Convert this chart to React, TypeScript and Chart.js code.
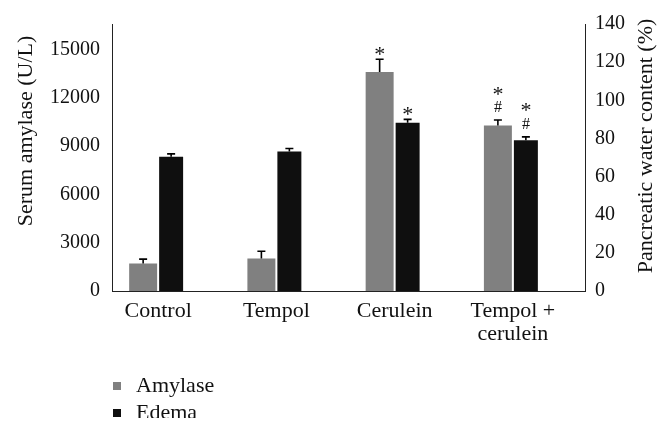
import { useEffect, useRef } from 'react';
import { Chart, registerables } from 'chart.js';

Chart.register(...registerables);

const categories: string[][] = [['Control'], ['Tempol'], ['Cerulein'], ['Tempol +', 'cerulein']];
const amylase = [1710, 2020, 13610, 10290];
const amylaseErr = [270, 450, 800, 340];
const amylaseMarks: string[][] = [[], [], ['*'], ['#', '*']];
const edema = [70.4, 73.1, 88.2, 79.1];
const edemaErr = [1.5, 1.6, 1.8, 1.7];
const edemaMarks: string[][] = [[], [], ['*'], ['#', '*']];
const thirdSeries = [0, 0, 0, 0];
const leftTicks = [0, 3000, 6000, 9000, 12000, 15000];
const leftMax = 16600;
const rightTicks = [0, 20, 40, 60, 80, 100, 120, 140];
const rightMax = 140;
const leftTitle = 'Serum amylase (U/L)';
const rightTitle = 'Pancreatic water content (%)';
const seriesNames = ['Amylase', 'Edema'];

const SERIF = "'Liberation Serif', 'Times New Roman', serif";
const GRAY = '#808080';
const BLACK = '#0f0f0f';

const errorPlugin = {
  id: 'errorBarsAndMarks',
  afterDatasetsDraw(chart: any) {
    const ctx = chart.ctx;
    const errs = [amylaseErr, edemaErr];
    const vals = [amylase, edema];
    const marks = [amylaseMarks, edemaMarks];
    for (let d = 0; d < 2; d++) {
      const meta = chart.getDatasetMeta(d);
      const scale = chart.scales[chart.data.datasets[d].yAxisID];
      meta.data.forEach((bar: any, j: number) => {
        const x = bar.x;
        const yTop = bar.y;
        const yErr = scale.getPixelForValue(vals[d][j] + errs[d][j]);
        ctx.save();
        ctx.strokeStyle = '#000';
        ctx.lineWidth = 1.6;
        ctx.beginPath();
        ctx.moveTo(x, yTop);
        ctx.lineTo(x, yErr);
        ctx.moveTo(x - 4, yErr);
        ctx.lineTo(x + 4, yErr);
        ctx.stroke();
        const m = marks[d][j];
        ctx.fillStyle = '#111';
        ctx.textAlign = 'center';
        ctx.textBaseline = 'alphabetic';
        let centers: number[] = [];
        if (m.length === 1) centers = [yErr - 8.5];
        else if (m.length === 2) centers = [yErr - 13.5, yErr - 29.5];
        m.forEach((s: string, k: number) => {
          ctx.font = (s === '#' ? '16px ' : '22px ') + SERIF;
          const mt = ctx.measureText(s);
          const off = (mt.actualBoundingBoxAscent - mt.actualBoundingBoxDescent) / 2;
          ctx.fillText(s, x, centers[k] + off);
        });
        ctx.restore();
      });
    }
  },
  afterDraw(chart: any) {
    const ctx = chart.ctx;
    ctx.save();
    ctx.fillStyle = '#111';
    ctx.font = '22px ' + SERIF;
    ctx.textAlign = 'center';
    ctx.textBaseline = 'middle';
    ctx.translate(26, 131);
    ctx.rotate(-Math.PI / 2);
    ctx.fillText(leftTitle, 0, 0);
    ctx.restore();

    ctx.save();
    ctx.fillStyle = '#111';
    ctx.font = '22px ' + SERIF;
    ctx.textAlign = 'center';
    ctx.textBaseline = 'middle';
    ctx.translate(646, 146);
    ctx.rotate(-Math.PI / 2);
    ctx.fillText(rightTitle, 0, 0);
    ctx.restore();

    ctx.save();
    ctx.font = '22px ' + SERIF;
    ctx.textAlign = 'left';
    ctx.textBaseline = 'middle';
    for (let i = 0; i < 2; i++) {
      const ds = chart.data.datasets[i];
      const cy = 386 + i * 27;
      ctx.fillStyle = ds.backgroundColor;
      ctx.fillRect(113, cy - 4, 8, 8);
      ctx.fillStyle = '#111';
      ctx.fillText(ds.label, 136, cy);
    }
    ctx.restore();
  },
};

export default function App() {
  const ref = useRef<HTMLCanvasElement>(null);
  useEffect(() => {
    if (!ref.current) return;
    const chart = new Chart(ref.current, {
      type: 'bar',
      data: {
        labels: categories,
        datasets: [
          {
            label: seriesNames[0],
            data: amylase,
            backgroundColor: GRAY,
            yAxisID: 'y',
            barPercentage: 1.0,
            categoryPercentage: 0.71,
          },
          {
            label: seriesNames[1],
            data: edema,
            backgroundColor: BLACK,
            yAxisID: 'y1',
            barPercentage: 0.857,
            categoryPercentage: 0.71,
          },
          {
            label: 'Series 3',
            data: thirdSeries,
            backgroundColor: '#c0504d',
            yAxisID: 'y',
            barPercentage: 0.857,
            categoryPercentage: 0.71,
          },
        ],
      },
      options: {
        responsive: false,
        animation: false,
        devicePixelRatio: 1,
        layout: { padding: { top: 20, left: 0, right: 0, bottom: 0 } },
        plugins: { legend: { display: false }, tooltip: { enabled: false } },
        scales: {
          x: {
            grid: { display: false, drawTicks: false },
            border: { display: true, color: '#222', width: 1 },
            ticks: {
              color: '#111',
              font: { family: SERIF, size: 22, lineHeight: 1.05 },
              padding: 9,
              labelOffset: -13,
              maxRotation: 0,
              autoSkip: false,
            },
            afterFit(s: any) { s.height = 127; },
          },
          y: {
            position: 'left',
            min: 0,
            max: leftMax,
            grid: { display: false, drawTicks: false },
            border: { display: true, color: '#222', width: 1 },
            ticks: {
              color: '#111',
              font: { family: SERIF, size: 20 },
              padding: 12,
              autoSkip: false,
              callback: (v: any) => String(v),
            },
            afterBuildTicks(s: any) {
              s.ticks = leftTicks.map((v) => ({ value: v }));
            },
            afterFit(s: any) { s.width = 112; },
          },
          y1: {
            position: 'right',
            min: 0,
            max: rightMax,
            grid: { display: false, drawTicks: false },
            border: { display: true, color: '#222', width: 1 },
            ticks: {
              color: '#111',
              font: { family: SERIF, size: 20 },
              padding: 10,
              autoSkip: false,
              callback: (v: any) => String(v),
            },
            afterBuildTicks(s: any) {
              s.ticks = rightTicks.map((v) => ({ value: v }));
            },
            afterFit(s: any) { s.width = 83; },
          },
        },
      },
      plugins: [errorPlugin],
    } as any);
    return () => chart.destroy();
  }, []);
  return (
    <div style={{ position: 'absolute', left: 0, top: 0, width: 668, height: 432, background: '#fff' }}>
      <canvas ref={ref} width={668} height={418} style={{ width: 668, height: 418, display: 'block' }} />
    </div>
  );
}
